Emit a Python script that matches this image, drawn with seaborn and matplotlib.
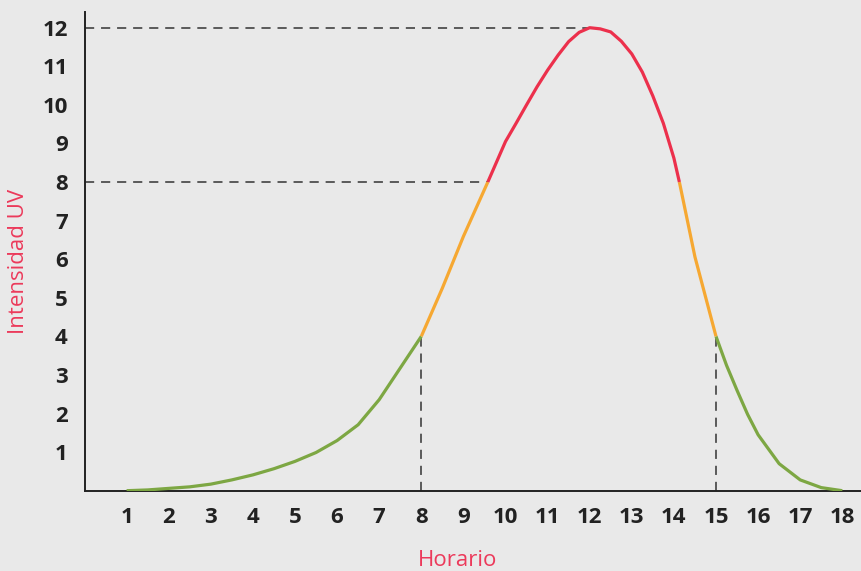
import numpy as np
import pandas as pd
import matplotlib
matplotlib.use("Agg")
import matplotlib.pyplot as plt
import seaborn as sns

# ---- data ----
hours = [1, 1.5, 2, 2.5, 3, 3.5, 4, 4.5, 5, 5.5, 6, 6.5, 7, 7.5, 8,
         8.5, 9, 9.58,
         10, 10.25, 10.5, 10.75, 11, 11.25, 11.5, 11.75, 12, 12.25, 12.5, 12.75,
         13, 13.25, 13.5, 13.75, 14, 14.13,
         14.5, 15,
         15.25, 15.5, 15.75, 16, 16.5, 17, 17.5, 18]
uv = [0, 0.02, 0.06, 0.1, 0.17, 0.28, 0.41, 0.57, 0.76, 0.99, 1.3, 1.71, 2.36, 3.18, 4.0,
      5.25, 6.59, 8.0,
      9.05, 9.52, 10.0, 10.47, 10.9, 11.29, 11.64, 11.88, 12.0, 11.97, 11.89, 11.65,
      11.32, 10.85, 10.23, 9.52, 8.62, 8.0,
      6.06, 4.0,
      3.25, 2.6, 1.98, 1.45, 0.7, 0.28, 0.08, 0]

levels = ["bajo", "moderado", "alto"]
level_colors = ["#7DA743", "#F6A832", "#EC304C"]
thresholds = [4, 8]          # UV thresholds between levels
x_ticks = list(range(1, 19))
y_ticks = list(range(1, 13))
ref_hours = [8, 15]          # vertical dashed guides
ref_levels = [8, 12]         # horizontal dashed guides

# ---- build segments (segments share endpoints) ----
def level_of(i):
    m = max(uv[i], uv[i + 1])
    if m <= thresholds[0]:
        return 0
    if m <= thresholds[1]:
        return 1
    return 2

rows = []
seg = 0
prev = None
for i in range(len(hours) - 1):
    lv = level_of(i)
    if prev is not None and lv != prev:
        seg += 1
    prev = lv
    rows.append((hours[i], uv[i], levels[lv], seg, i))
    rows.append((hours[i + 1], uv[i + 1], levels[lv], seg, i + 0.5))
df = pd.DataFrame(rows, columns=["Horario", "UV", "nivel", "seg", "order"])
df = df.drop_duplicates(subset=["Horario", "UV", "seg"]).sort_values(["seg", "order"])

# ---- figure ----
bg = "#E9E9E9"
sns.set_theme(style="white")
plt.rcParams["font.family"] = ["Open Sans", "DejaVu Sans"]

fig = plt.figure(figsize=(8.61, 5.71), dpi=100, facecolor=bg)
ax = fig.add_axes([84.5 / 861, 80.3 / 571, 1 - 84.5 / 861, (490.7 - 12) / 571])
ax.set_facecolor(bg)

sns.lineplot(data=df, x="Horario", y="UV", hue="nivel", units="seg",
             estimator=None, sort=False, palette=dict(zip(levels, level_colors)),
             linewidth=2.3, legend=False, ax=ax, zorder=3,
             solid_capstyle="butt", solid_joinstyle="round")

# dashed guide lines
dash_kw = dict(color="#333333", linewidth=1.1, linestyle=(0, (6, 4.5)), zorder=2)
peak_i = int(np.argmax(uv))
ax.plot([0, hours[peak_i]], [ref_levels[1], ref_levels[1]], **dash_kw)
cross8 = hours[uv.index(ref_levels[0])]
ax.plot([0, cross8], [ref_levels[0], ref_levels[0]], **dash_kw)
for h in ref_hours:
    ax.plot([h, h], [0, uv[hours.index(h)]], **dash_kw)

ax.set_xlim(0, (861 - 84.5) / 42.1)
ax.set_ylim(0, 12 + (27.7 - 12) / 38.58)

ax.set_xticks([0] + x_ticks)
ax.set_xticklabels([""] + [str(t) for t in x_ticks])
ax.set_yticks([0] + y_ticks)
ax.set_yticklabels([""] + [str(t) for t in y_ticks])

for s in ["top", "right"]:
    ax.spines[s].set_visible(False)
for s in ["left", "bottom"]:
    ax.spines[s].set_color("#222222")
    ax.spines[s].set_linewidth(1.4)

ax.tick_params(axis="both", which="both", direction="out", length=7, width=1.4,
               color="#222222", labelcolor="#222222", labelsize=16, pad=5)
for lab in ax.get_xticklabels() + ax.get_yticklabels():
    lab.set_fontweight("bold")

pink = "#EC3A5B"
ax.set_xlabel("Horario", color=pink, fontsize=16)
ax.set_ylabel("Intensidad UV", color=pink, fontsize=16)
ax.xaxis.set_label_coords(0.481, -0.124)
ax.yaxis.set_label_coords(-0.0715, 0.478)

fig.savefig("out.png", dpi=100, facecolor=bg)
